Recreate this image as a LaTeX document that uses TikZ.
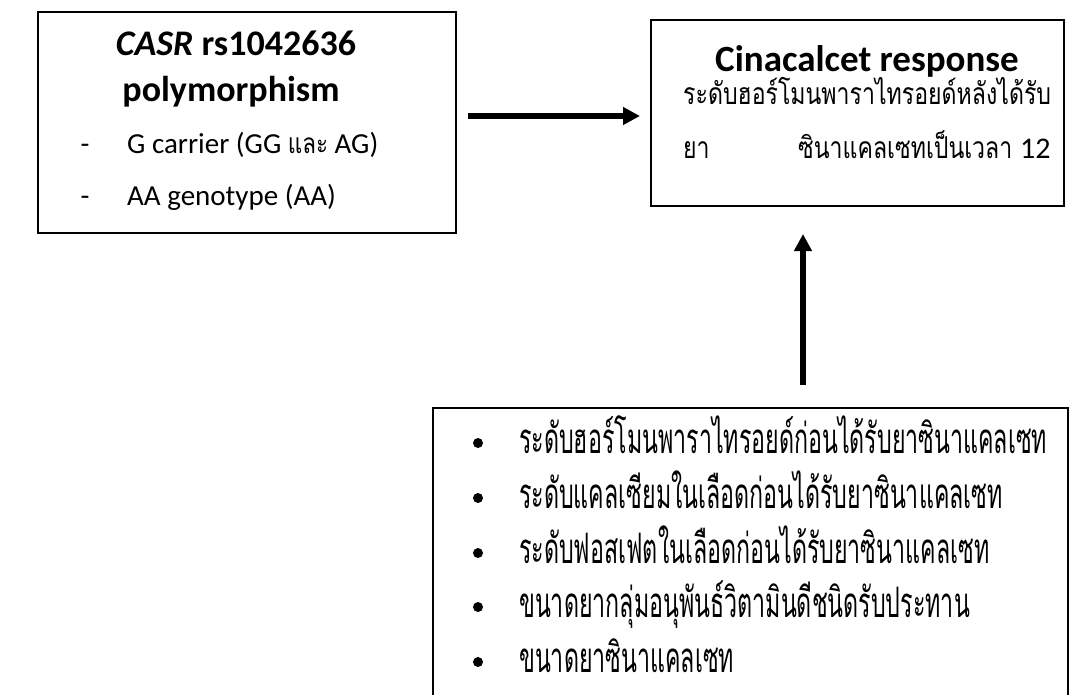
\documentclass[tikz,border=0pt]{standalone}
\usepackage{fontspec}
\setmainfont{Carlito}
\newfontfamily\thaiR[Script=Thai,FakeStretch=0.66]{Loma}
\newfontfamily\thaiB[Script=Thai,FakeStretch=0.553]{Loma}
\newfontfamily\thaiL[Script=Thai,FakeStretch=0.8]{Loma}
\newcommand\thsq[1]{\scalebox{1}[0.86]{#1}}
\usetikzlibrary{arrows.meta}
\begin{document}
\begin{tikzpicture}[x=1pt,y=-1pt,
  box/.style={draw, line width=2pt, inner sep=0pt, anchor=north west},
  arr/.style={line width=6pt, -{Triangle[length=17pt,width=17pt]}},
  bul/.style={circle, fill, inner sep=0pt, minimum size=10pt},
  ttl/.style={anchor=base, inner sep=0pt, font=\fontsize{36}{40}\selectfont\bfseries},
  lat/.style={anchor=base west, inner sep=0pt, font=\fontsize{29}{34}\selectfont},
  thR/.style={anchor=base west, inner sep=0pt, font=\fontsize{35}{40}\selectfont\thaiR},
  thB/.style={anchor=base west, inner sep=0pt, font=\fontsize{42}{46}\selectfont\thaiB}]
\useasboundingbox (0,0) rectangle (1075,694);
\fill[white] (0,0) rectangle (1075,694);
% boxes
\node[box, minimum width=418pt, minimum height=221pt] (L) at (37,11) {};
\node[box, minimum width=413pt, minimum height=186pt] (R) at (650,19) {};
\begin{scope}
\clip (0,0) rectangle (1075,694);
\node[box, minimum width=635pt, minimum height=320pt] (B) at (432,407) {};
\end{scope}
% left box text
\node[ttl] (l1) at (236,55) {\itshape CASR\upshape\ rs1042636};
\node[ttl] (l2) at (231,101) {polymorphism};
\node[lat, anchor=base] (d1) at (85,153) {-};
\node[lat] (l3) at (127,153) {G carrier (GG {\fontsize{28}{30}\selectfont\thaiL และ} AG)};
\node[lat, anchor=base] (d2) at (85,205) {-};
\node[lat] (l4) at (127,205) {AA genotype (AA)};
% right box text
\node[ttl, font=\fontsize{37}{42}\selectfont\bfseries] (r1) at (867,71) {Cinacalcet response};
\node[thR] (r2) at (683,104) {\thsq{ระดับฮอร์โมนพาราไทรอยด์หลังได้รับ}};
\node[thR] (r3) at (683,158) {\thsq{ยา}};
\node[thR] (r4) at (798,158) {\thsq{ซินาแคลเซทเป็นเวลา} {\fontsize{30}{34}\selectfont\rmfamily 12}};
% bottom box items
\node[bul] (b1) at (478,443) {};
\node[bul] (b2) at (478,498) {};
\node[bul] (b3) at (478,553) {};
\node[bul] (b4) at (478,607) {};
\node[bul] (b5) at (478,662) {};
\node[thB] (i1) at (519,453) {ระดับฮอร์โมนพาราไทรอยด์ก่อนได้รับยาซินาแคลเซท};
\node[thB] (i2) at (519,508) {ระดับแคลเซียมในเลือดก่อนได้รับยาซินาแคลเซท};
\node[thB] (i3) at (519,563) {ระดับฟอสเฟตในเลือดก่อนได้รับยาซินาแคลเซท};
\node[thB] (i4) at (519,617) {ขนาดยากลุ่มอนุพันธ์วิตามินดีชนิดรับประทาน};
\node[thB] (i5) at (519,672) {ขนาดยาซินาแคลเซท};
% arrows
\draw[arr, shorten <=11pt, shorten >=10pt] (L.east |- 0,116) -- (R.west |- 0,116);
\draw[arr, shorten <=22pt, shorten >=27pt] (B.north -| 803,0) -- (R.south -| 803,0);
\end{tikzpicture}
\end{document}
